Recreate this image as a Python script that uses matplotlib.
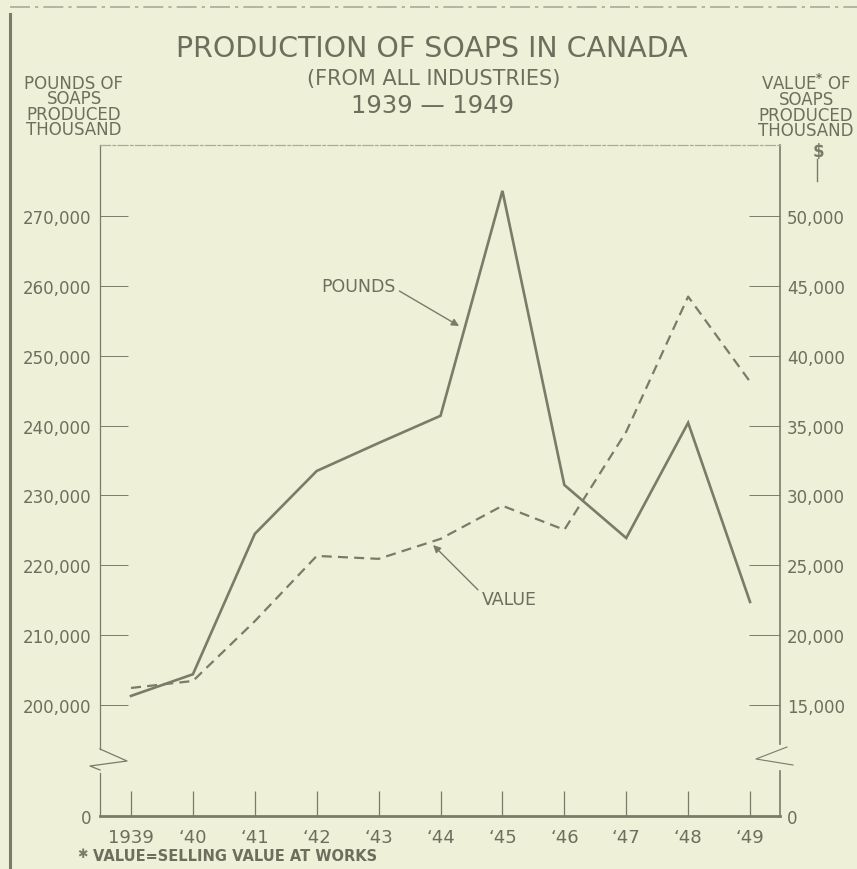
import matplotlib
matplotlib.use("Agg")
import matplotlib.pyplot as plt
from matplotlib.lines import Line2D

# data
years = [1939, 1940, 1941, 1942, 1943, 1944, 1945, 1946, 1947, 1948, 1949]
year_labels = ["1939", "\u201840", "\u201841", "\u201842", "\u201843", "\u201844",
               "\u201845", "\u201846", "\u201847", "\u201848", "\u201849"]
pounds = [201300, 204400, 224500, 233500, 237500, 241400, 273600, 231500, 223900, 240400, 214750]   # thousand lb
value = [16220, 16720, 21000, 25670, 25460, 26890, 29260, 27540, 34560, 44230, 38140]             # thousand $
left_ticks = [200000, 210000, 220000, 230000, 240000, 250000, 260000, 270000]
right_ticks = [15000, 20000, 25000, 30000, 35000, 40000, 45000, 50000]

BG = "#eef0d8"
INK = "#7b7b68"
TXT = "#6e6e5d"
W, H = 857, 870

fig = plt.figure(figsize=(W / 100, H / 100), dpi=100)
fig.patch.set_facecolor(BG)
plt.rcParams["font.family"] = "DejaVu Sans"

# axes box in pixels: x 100..780, y 146..817 (from top)
ax = fig.add_axes([100 / W, 1 - 817 / H, 680 / W, 671 / H])
ax.set_facecolor(BG)
ax2 = ax.twinx()

# broken scales: 0 sits a bit below 200,000 / 15,000
y0, y1 = 184111, 280160
ax.set_ylim(y0, y1)
ax2.set_ylim((y0 - 170000) / 2, (y1 - 170000) / 2)
ax.set_xlim(1938.499, 1949.484)

ax.plot(years, pounds, color=INK, lw=1.9, solid_joinstyle="miter", zorder=3)
ax2.plot(years, value, color=INK, lw=1.6, dashes=(4.5, 2.8), zorder=3)

# left ticks
ax.set_yticks([y0] + left_ticks)
ax.set_yticklabels(["0"] + [f"{v:,}" for v in left_ticks])
ax.tick_params(axis="y", direction="in", length=20, width=0.7, color=INK,
               pad=6, labelsize=12, labelcolor=TXT)
ax.yaxis.get_major_ticks()[0].tick1line.set_visible(False)

# right ticks
r0 = (y0 - 170000) / 2
ax2.set_yticks([r0] + right_ticks)
ax2.set_yticklabels(["0"] + [f"{v:,}" for v in right_ticks])
ax2.tick_params(axis="y", direction="in", length=22, width=0.7, color=INK,
                pad=5, labelsize=12, labelcolor=TXT)
ax2.yaxis.get_major_ticks()[0].tick2line.set_visible(False)

# year ticks
ax.set_xticks(years)
ax.set_xticklabels(year_labels)
ax.tick_params(axis="x", direction="in", length=18, width=0.9, color=INK,
               pad=9, labelsize=13, labelcolor=TXT)

for a in (ax, ax2):
    for s in ("left", "right", "top", "bottom"):
        a.spines[s].set_visible(False)
ax.spines["bottom"].set_visible(True)
ax.spines["bottom"].set_color(INK)
ax.spines["bottom"].set_linewidth(2)
ax.spines["top"].set_visible(True)
ax.spines["top"].set_color("#a9ab98")
ax.spines["top"].set_linewidth(0.9)
ax.spines["top"].set_linestyle((0, (8, 2, 2, 2)))


def fx(px):
    return (px - 100) / 680


def fy(py):
    return (817 - py) / 671


kw = dict(transform=ax.transAxes, clip_on=False, color=INK, lw=0.9)
# left axis with break
ax.plot([0, 0], [fy(146), fy(750)], **kw)
ax.plot([fx(100), fx(127), fx(90), fx(100)], [fy(750), fy(762), fy(767), fy(771)], **kw)
ax.plot([0, 0], [fy(774), 0], **kw)
# right axis with break
kw["lw"] = 1.2
ax.plot([1, 1], [1, fy(745)], **kw)
ax.plot([fx(787), fx(756), fx(793)], [fy(748), fy(760), fy(766)], **dict(kw, lw=0.8))
ax.plot([1, 1], [fy(772), 0], **kw)

# annotations
ax.annotate("POUNDS", xy=(1944.30, 254250), xytext=(1942.67, 259980),
            ha="center", va="center", fontsize=12.5, color=TXT,
            arrowprops=dict(arrowstyle="-|>", color=INK, lw=1.0, shrinkA=1, shrinkB=0,
                            mutation_scale=11, relpos=(1.0, 0.35)))
ax.annotate("VALUE", xy=(1943.88, 222900), xytext=(1945.11, 215170),
            ha="center", va="center", fontsize=12.5, color=TXT,
            arrowprops=dict(arrowstyle="-|>", color=INK, lw=1.0, shrinkA=1, shrinkB=0,
                            mutation_scale=11, relpos=(0.0, 0.8)))


def ftext(px, py, s, **k):
    k.setdefault("color", TXT)
    k.setdefault("ha", "center")
    k.setdefault("va", "center")
    fig.text(px / W, 1 - py / H, s, **k)


ftext(432, 49, "PRODUCTION OF SOAPS IN CANADA", fontsize=20.5)
ftext(434, 79, "(FROM ALL INDUSTRIES)", fontsize=15)
ftext(433, 106, "1939 \u2014 1949", fontsize=17.5)

ftext(74, 107, "POUNDS OF\nSOAPS\nPRODUCED\nTHOUSAND", fontsize=12, linespacing=0.8)
ftext(806, 107, "VALUE$^{\\mathbf{*}}$ OF\nSOAPS\nPRODUCED\nTHOUSAND", fontsize=12, linespacing=0.8)

ftext(818, 152, "$", fontsize=12, fontweight="bold", color=INK)
fig.add_artist(Line2D([817 / W, 817 / W], [1 - 160 / H, 1 - 182 / H], color=INK, lw=1))

ftext(82, 855, "\u2731", fontsize=9, color=INK)
ftext(93, 857, "VALUE=SELLING VALUE AT WORKS", fontsize=10.5, fontweight="bold", ha="left")

# page border
fig.add_artist(Line2D([10 / W, 10 / W], [0, 1 - 15 / H], color=INK, lw=2.2))
fig.add_artist(Line2D([10 / W, 1], [1 - 8 / H, 1 - 8 / H], color="#a9ab98", lw=1.2,
                      linestyle=(0, (12, 3, 2, 3))))

fig.savefig("out.png", dpi=100, facecolor=BG)
